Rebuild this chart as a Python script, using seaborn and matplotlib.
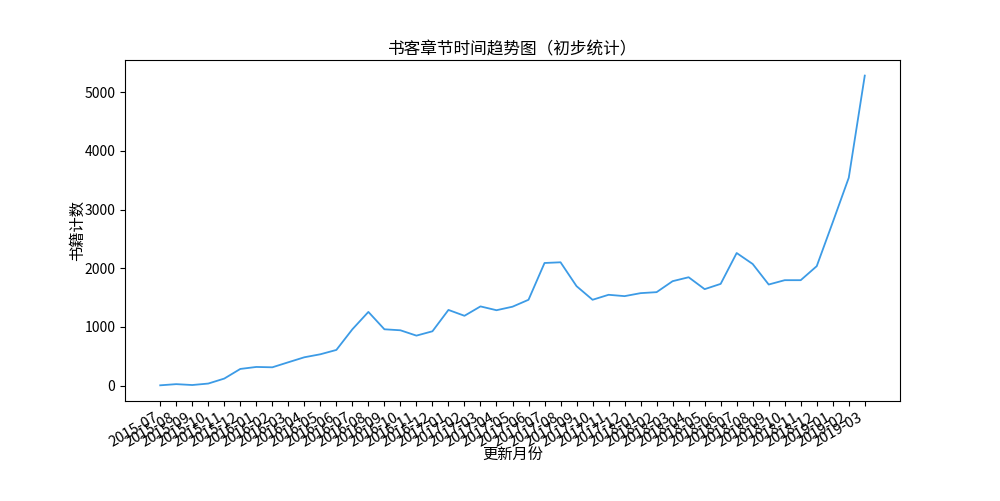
import matplotlib
matplotlib.use("Agg")
import matplotlib.pyplot as plt
import seaborn as sns
import pandas as pd

months = [
    "2015-07", "2015-08", "2015-09", "2015-10", "2015-11", "2015-12",
    "2016-01", "2016-02", "2016-03", "2016-04", "2016-05", "2016-06",
    "2016-07", "2016-08", "2016-09", "2016-10", "2016-11", "2016-12",
    "2017-01", "2017-02", "2017-03", "2017-04", "2017-05", "2017-06",
    "2017-07", "2017-08", "2017-09", "2017-10", "2017-11", "2017-12",
    "2018-01", "2018-02", "2018-03", "2018-04", "2018-05", "2018-06",
    "2018-07", "2018-08", "2018-09", "2018-10", "2018-11", "2018-12",
    "2019-01", "2019-02", "2019-03",
]
counts = [
    5, 25, 10, 35, 120, 284,
    318, 312, 398, 483, 534, 608,
    960, 1256, 960, 943, 852, 926,
    1290, 1190, 1350, 1285, 1345, 1463,
    2090, 2102, 1695, 1463, 1548, 1525,
    1576, 1593, 1780, 1847, 1644, 1734,
    2260, 2073, 1723, 1797, 1797, 2036,
    2784, 3543, 5284,
]

title = "书客章节时间趋势图（初步统计）"
xlabel = "更新月份"
ylabel = "书籍计数"

plt.rcParams["font.family"] = ["Noto Sans CJK SC", "DejaVu Sans"]
plt.rcParams["axes.unicode_minus"] = False

df = pd.DataFrame({"month": months, "count": counts})
df["pos"] = range(len(months))

fig, ax = plt.subplots(figsize=(10, 5.01), dpi=100)
sns.lineplot(data=df, x="pos", y="count", ax=ax, color="#3c9be6", linewidth=1.3)
ax.set_xticks(df["pos"])
ax.set_xticklabels(months)
ax.set_title(title, fontsize=12, pad=4)
ax.set_xlabel(xlabel, fontsize=11, labelpad=-2)
ax.set_ylabel(ylabel, fontsize=11, labelpad=-1)
ax.tick_params(axis="y", labelsize=10)
ax.tick_params(axis="x", labelsize=10.5)
fig.autofmt_xdate()
fig.savefig("out.png", dpi=100)
